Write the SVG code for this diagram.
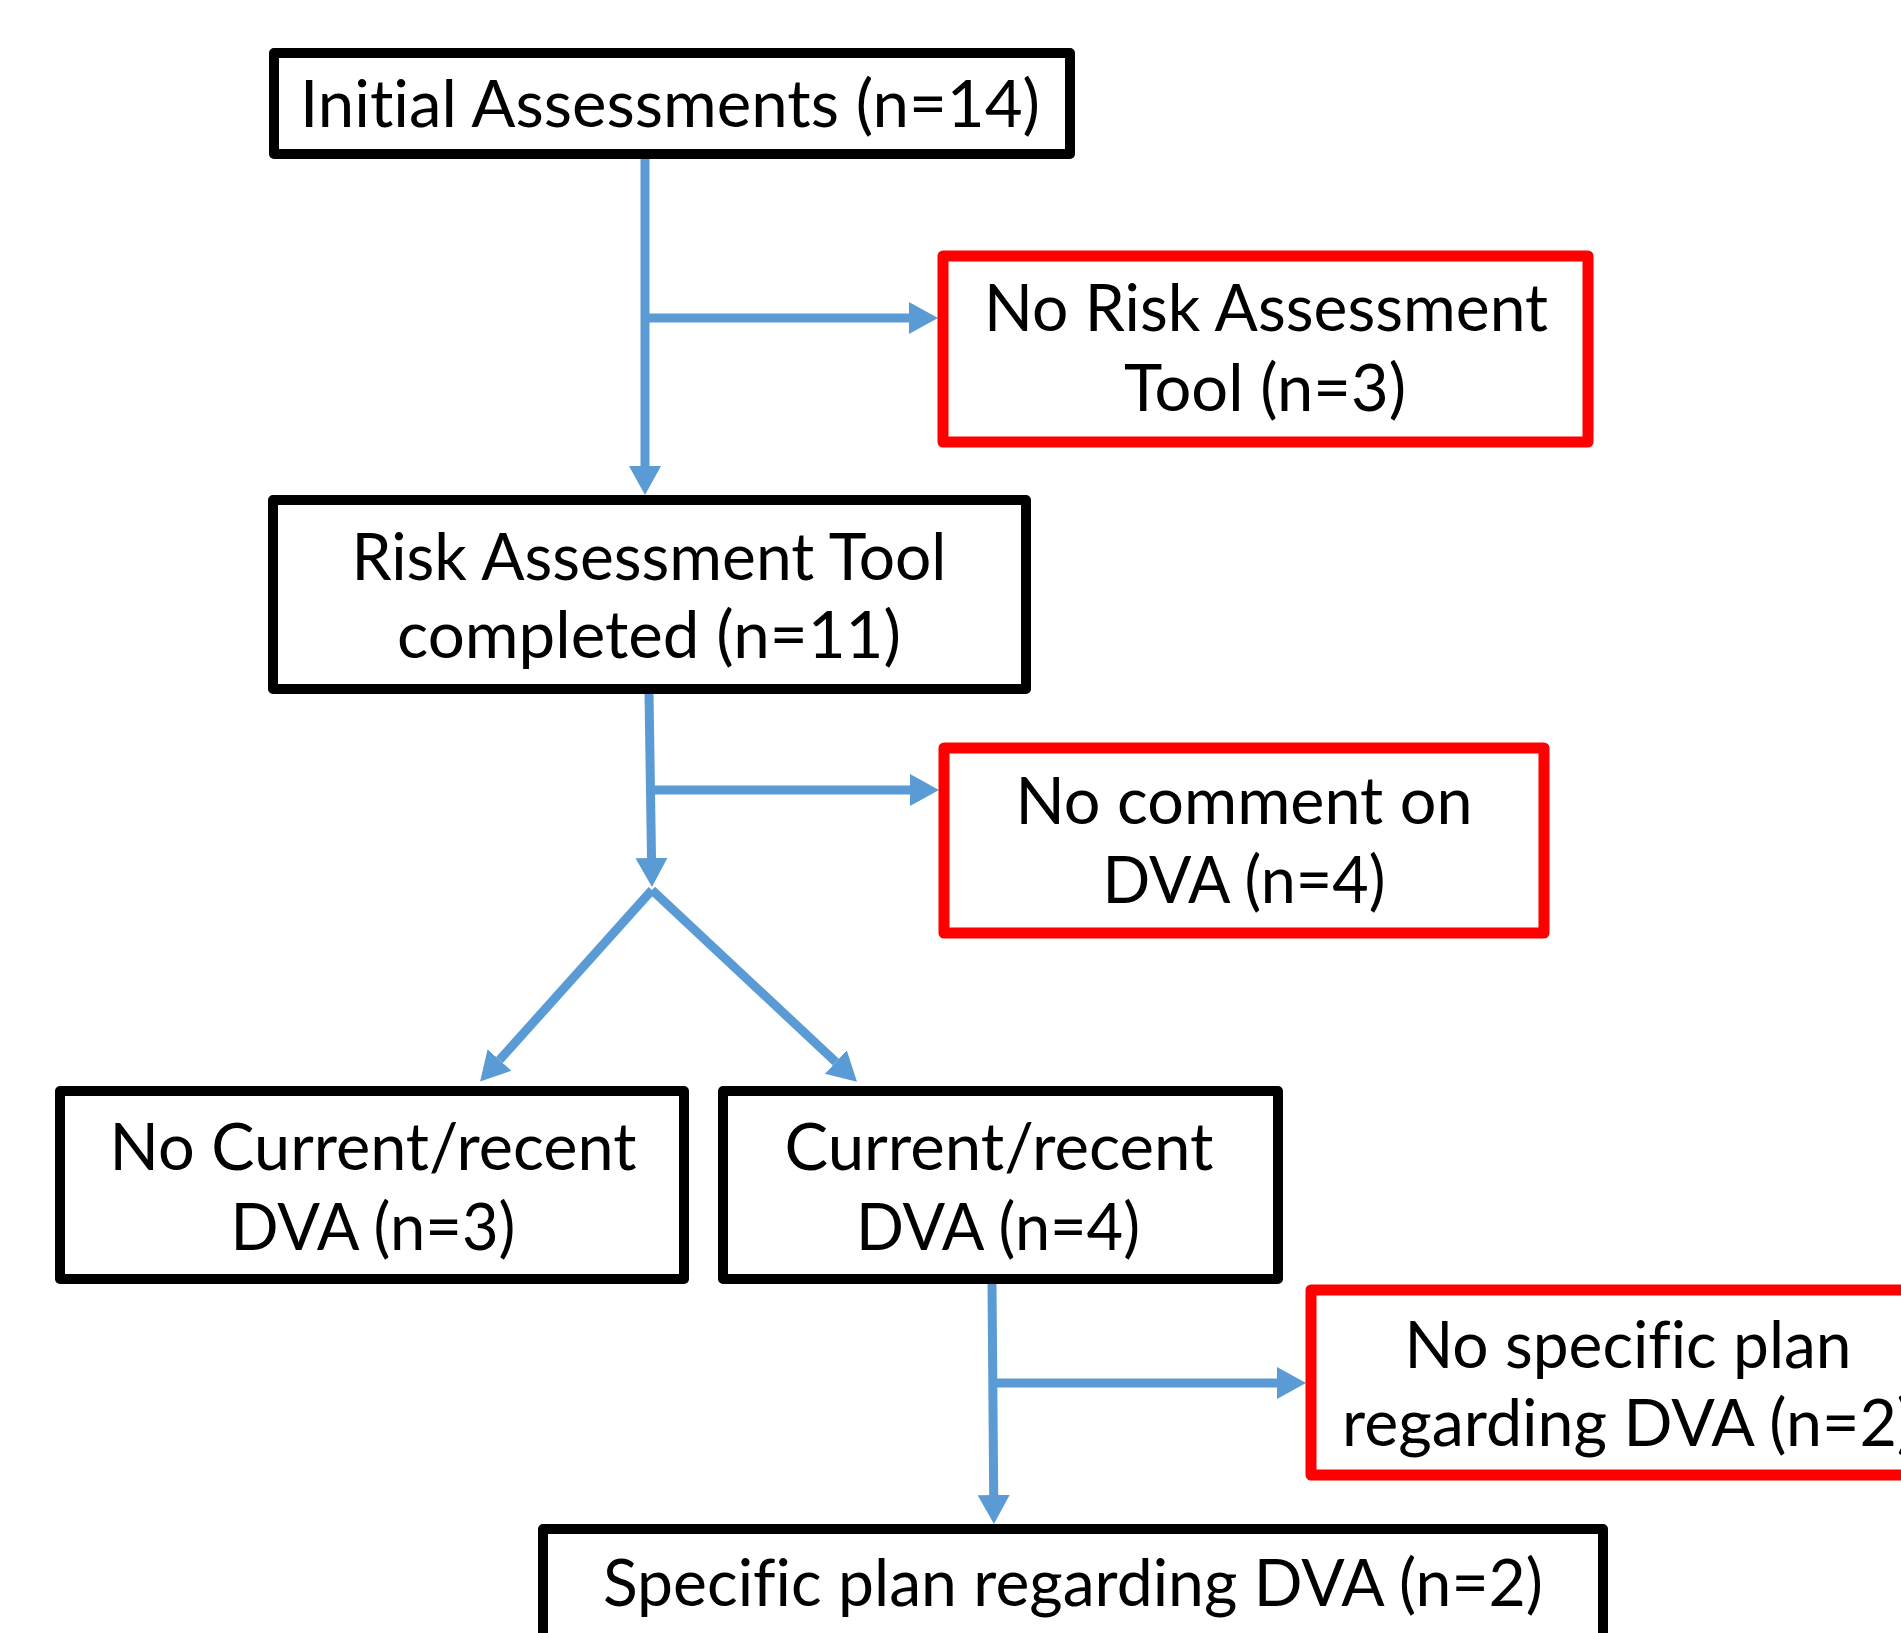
<svg xmlns="http://www.w3.org/2000/svg" width="1901" height="1633" viewBox="0 0 1901 1633">
<style>
.box{fill:#fff;stroke:#000;stroke-width:10;stroke-linejoin:round}
.red{fill:#fff;stroke:#FF0000;stroke-width:11;stroke-linejoin:round}
.lbl{font-family:Lato,"Open Sans","Liberation Sans",sans-serif;font-size:66px;fill:#000;text-anchor:middle;font-variant-ligatures:none}
.con{fill:none;stroke:#5B9BD5;stroke-width:9}
</style>
<defs>
<marker id="ah" viewBox="0 -17 31 34" markerWidth="31" markerHeight="34" refX="0" refY="0" orient="auto" markerUnits="userSpaceOnUse">
<path d="M0,-16 L29,0 L0,16 Z" fill="#5B9BD5"/>
</marker>
</defs>
<rect width="1901" height="1633" fill="#fff"/>
<g id="connectors">
<path class="con" d="M645,158 L645,466" marker-end="url(#ah)"/>
<path class="con" d="M645,318 L909,318" marker-end="url(#ah)"/>
<path class="con" d="M649,693 L651.5,858" marker-end="url(#ah)"/>
<path class="con" d="M651,790 L910,790" marker-end="url(#ah)"/>
<path class="con" d="M652,890 L499.5,1060" marker-end="url(#ah)"/>
<path class="con" d="M652,890 L835.8,1062" marker-end="url(#ah)"/>
<path class="con" d="M992,1284 L993.7,1495" marker-end="url(#ah)"/>
<path class="con" d="M994,1383 L1277,1383" marker-end="url(#ah)"/>
</g>
<g id="n1">
<rect class="box" x="274" y="53" width="796" height="101"/>
<text class="lbl" x="670" y="127" textLength="740" lengthAdjust="spacingAndGlyphs">Initial Assessments (n=14)</text>
</g>
<g id="n2">
<rect class="red" x="943" y="256" width="645" height="186"/>
<text class="lbl" x="1266" y="331" textLength="564" lengthAdjust="spacingAndGlyphs">No Risk Assessment</text>
<text class="lbl" x="1265" y="411" textLength="282" lengthAdjust="spacingAndGlyphs">Tool (n=3)</text>
</g>
<g id="n3">
<rect class="box" x="273" y="500" width="753" height="189"/>
<text class="lbl" x="649" y="580" textLength="595" lengthAdjust="spacingAndGlyphs">Risk Assessment Tool</text>
<text class="lbl" x="649" y="658" textLength="504" lengthAdjust="spacingAndGlyphs">completed (n=11)</text>
</g>
<g id="n4">
<rect class="red" x="944" y="748" width="600" height="185"/>
<text class="lbl" x="1244" y="824" textLength="457" lengthAdjust="spacingAndGlyphs">No comment on</text>
<text class="lbl" x="1244" y="903" textLength="283" lengthAdjust="spacingAndGlyphs">DVA (n=4)</text>
</g>
<g id="n5">
<rect class="box" x="60" y="1091" width="624" height="188"/>
<text class="lbl" x="373" y="1170" textLength="527" lengthAdjust="spacingAndGlyphs">No Current/recent</text>
<text class="lbl" x="373" y="1250" textLength="285" lengthAdjust="spacingAndGlyphs">DVA (n=3)</text>
</g>
<g id="n6">
<rect class="box" x="723" y="1091" width="555" height="188"/>
<text class="lbl" x="999" y="1170" textLength="429" lengthAdjust="spacingAndGlyphs">Current/recent</text>
<text class="lbl" x="998" y="1250" textLength="284" lengthAdjust="spacingAndGlyphs">DVA (n=4)</text>
</g>
<g id="n7">
<rect class="red" x="1311" y="1290" width="640" height="185"/>
<text class="lbl" x="1628" y="1368" textLength="447" lengthAdjust="spacingAndGlyphs">No specific plan</text>
<text class="lbl" x="1628" y="1446" textLength="572" lengthAdjust="spacingAndGlyphs">regarding DVA (n=2)</text>
</g>
<g id="n8">
<rect class="box" x="543" y="1529" width="1060" height="140"/>
<text class="lbl" x="1073" y="1606" textLength="940" lengthAdjust="spacingAndGlyphs">Specific plan regarding DVA (n=2)</text>
</g>
</svg>
